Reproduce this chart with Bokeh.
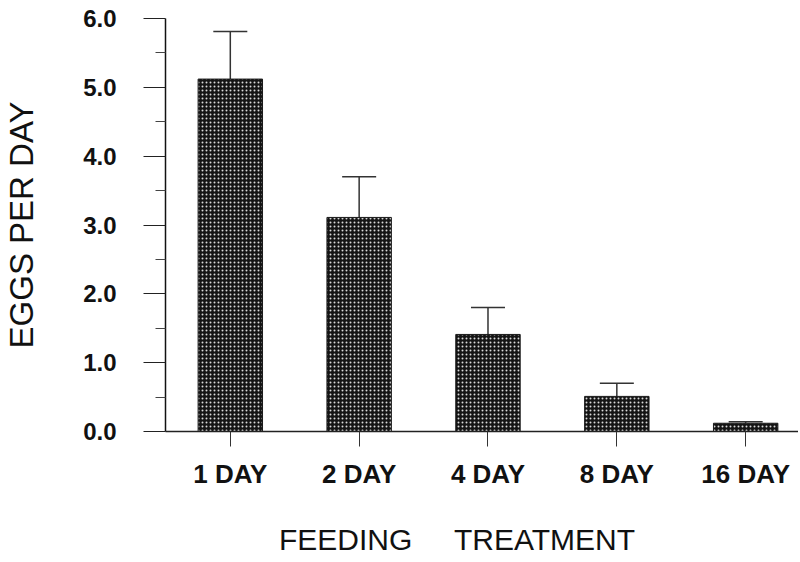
from bokeh.plotting import figure
from bokeh.models import ColumnDataSource, Whisker, TeeHead, FixedTicker, PrintfTickFormatter, Range1d
from bokeh.embed import file_html
from bokeh.resources import INLINE

categories = ["1 DAY", "2 DAY", "4 DAY", "8 DAY", "16 DAY"]
positions = [1, 2, 3, 4, 5]
eggs_per_day = [5.12, 3.11, 1.41, 0.51, 0.12]
std_error = [0.69, 0.59, 0.39, 0.19, 0.02]
y_ticks = [0, 1, 2, 3, 4, 5, 6]

upper = [m + e for m, e in zip(eggs_per_day, std_error)]
src = ColumnDataSource(dict(x=positions, top=eggs_per_day, upper=upper))

FONT = "Liberation Sans, Arial, sans-serif"
NB = "\u00a0"

p = figure(width=798, height=558, output_backend="svg", toolbar_location=None,
           x_range=Range1d(0.497, 5.41), y_range=Range1d(0, 6),
           min_border_left=163, min_border_right=0, min_border_top=18, min_border_bottom=126)
p.outline_line_color = None
p.xgrid.visible = False
p.ygrid.visible = False

p.vbar(x="x", top="top", bottom=0, width=0.5, source=src,
       fill_color="#141414", line_color="#1a1a1a", line_width=1,
       hatch_pattern="dot", hatch_color="#d8d8d8", hatch_scale=4, hatch_weight=0.8)

wh = Whisker(base="x", lower="top", upper="upper", source=src, dimension="height",
             line_color="#333333", line_width=1.5,
             upper_head=TeeHead(size=34, line_color="#333333", line_width=1.5),
             lower_head=None)
p.add_layout(wh)

# y axis
ya = p.yaxis[0]
ya.ticker = FixedTicker(ticks=y_ticks, minor_ticks=[0.5, 1.5, 2.5, 3.5, 4.5, 5.5])
ya.formatter = PrintfTickFormatter(format="%.1f")
ya.major_tick_out = 22
ya.major_tick_in = 0
ya.minor_tick_out = 10
ya.minor_tick_in = 0
ya.major_label_standoff = 27
ya.major_label_text_font = FONT
ya.major_label_text_font_style = "bold"
ya.major_label_text_font_size = "24px"
ya.major_label_text_color = "#111111"
ya.axis_label = "EGGS PER DAY"
ya.axis_label_text_font = FONT
ya.axis_label_text_font_style = "normal"
ya.axis_label_text_font_size = "33px"
ya.axis_label_text_color = "#111111"
ya.axis_label_standoff = 40
ya.axis_line_color = "#111111"
ya.axis_line_width = 1.5
ya.major_tick_line_color = "#222222"
ya.minor_tick_line_color = "#444444"

# x axis
xa = p.xaxis[0]
xa.ticker = FixedTicker(ticks=positions, minor_ticks=[])
xa.major_label_overrides = {pos: lab for pos, lab in zip(positions, categories)}
xa.major_tick_out = 15
xa.major_tick_in = 0
xa.minor_tick_line_color = None
xa.major_label_standoff = 12
xa.major_label_text_font = FONT
xa.major_label_text_font_style = "bold"
xa.major_label_text_font_size = "26px"
xa.major_label_text_color = "#111111"
xa.axis_label = "FEEDING " + NB * 4 + "TREATMENT" + NB * 6
xa.axis_label_text_font = FONT
xa.axis_label_text_font_style = "normal"
xa.axis_label_text_font_size = "30px"
xa.axis_label_text_color = "#111111"
xa.axis_label_standoff = 31
xa.axis_line_color = "#222222"
xa.axis_line_width = 1.5
xa.major_tick_line_color = "#333333"

open("out.html", "w").write(file_html(p, INLINE))
